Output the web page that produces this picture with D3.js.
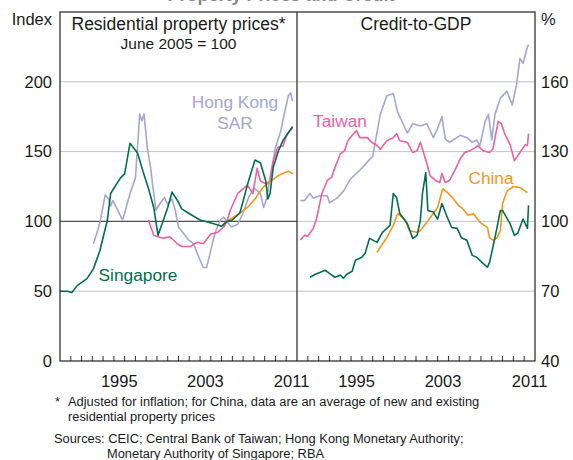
<!DOCTYPE html>
<html>
<head>
<meta charset="utf-8">
<script src="https://cdn.jsdelivr.net/npm/d3@7"></script>
<style>
  body { margin: 0; background: #fff; }
  svg { font-family: Arial, "Liberation Sans", sans-serif; }
</style>
</head>
<body>
<div id="chart"></div>
<script>
// residential property prices, index June 2005 = 100  [year, value]
var hkPrice = [[1993.1,84],[1993.4,91],[1993.7,99],[1994.2,119],[1994.5,116],[1994.7,111],[1994.9,115],
  [1995.3,109],[1995.8,101],[1996.0,106],[1996.5,120],[1997.0,131],[1997.3,165],[1997.4,177],[1997.6,172],
  [1997.8,177],[1998.1,153],[1998.4,139],[1998.7,120],[1998.9,108],[1999.3,113],[1999.7,117],[2000.0,112],
  [2000.4,116],[2000.7,108],[2001.0,96],[2001.4,92],[2001.9,87],[2002.4,84],[2002.8,76],[2003.3,67],
  [2003.6,67],[2003.9,76],[2004.2,86],[2004.5,94],[2004.9,101],[2005.2,103],[2005.5,100],[2005.9,96],
  [2006.5,98],[2007.0,106],[2007.5,117],[2008.0,124],[2008.3,122],[2008.6,120],[2008.9,110],[2009.2,117],
  [2009.6,136],[2010.0,153],[2010.5,165],[2010.9,180],[2011.2,190],[2011.4,192],[2011.6,186]];
var sgPrice = [[1990.0,50],[1990.3,50],[1990.7,50],[1991.1,49],[1991.6,54],[1992.5,59],[1993.1,66],
  [1993.7,79],[1994.4,101],[1994.7,120],[1995.6,131],[1996.0,134],[1996.5,156],[1997.2,149],[1997.7,136],
  [1998.2,124],[1998.7,110],[1999.1,90],[1999.6,101],[2000.0,110],[2000.4,121],[2000.9,115],[2001.3,109],
  [2001.9,106],[2003.0,101],[2004.2,98.5],[2005.0,96.5],[2005.5,100],[2006.0,101],[2006.7,106],[2007.5,129],
  [2008.1,144],[2008.6,142],[2009.1,129],[2009.3,116],[2009.5,120],[2009.8,139],[2010.3,151],[2010.7,158],
  [2011.6,168]];
var twPrice = [[1998.2,101],[1998.7,90],[1999.1,89],[1999.6,88],[2000.2,89],[2000.9,84],[2001.3,82],
  [2002.1,82],[2002.7,85],[2003.3,84],[2004.0,91],[2004.6,92],[2005.2,96],[2005.5,100],[2005.8,108],
  [2006.5,120],[2007.4,126],[2007.9,120],[2008.3,138],[2008.6,129],[2009.1,127],[2009.5,129],[2009.8,143],
  [2010.2,153],[2010.7,154],[2011.1,163],[2011.6,167]];
var cnPrice = [[2005.0,97],[2005.5,100],[2006.1,103],[2006.7,106],[2007.4,110],[2008.1,116],[2008.8,124],
  [2009.6,129],[2010.3,133],[2010.9,135],[2011.2,136],[2011.6,134]];

// credit-to-GDP, per cent  [year, value]
var hkCredit = [[1990.3,109],[1990.7,109],[1991.2,112],[1991.5,110],[1992.1,111],[1992.8,111],[1993.0,108],
  [1993.7,110],[1994.3,113],[1994.9,118],[1995.8,122],[1996.6,126],[1997.0,128],[1997.7,146],[1998.3,154],
  [1998.9,155],[1999.3,147],[2000.2,138],[2000.7,142],[2001.4,141],[2002.0,142],[2002.6,136],[2003.0,140],
  [2003.4,145],[2003.7,135.5],[2004.1,134],[2005.1,137],[2005.7,136],[2006.2,134],[2006.6,135],[2006.9,132.6],
  [2007.4,143],[2007.7,146],[2008.0,135],[2008.3,146],[2008.8,153],[2009.4,156],[2009.9,150],[2010.3,159],
  [2010.6,170],[2010.9,168],[2011.3,175],[2011.4,176]];
var twCredit = [[1990.3,92],[1990.7,94],[1991.0,93.6],[1991.5,97],[1991.8,101],[1992.3,112],[1992.8,117.6],
  [1993.2,119],[1993.5,123],[1994.0,129],[1994.4,130.4],[1994.7,134.7],[1995.1,137],[1995.5,139],[1995.8,136],
  [1996.5,136],[1996.9,134],[1997.4,132.6],[1997.7,131],[1998.3,134.7],[1998.9,136],[1999.2,137.7],
  [1999.5,134.7],[2000.2,134],[2000.7,129.6],[2001.1,130.4],[2001.4,134],[2001.6,131],[2002.0,125],
  [2002.3,119.7],[2002.8,117.6],[2003.2,116.7],[2003.4,120.6],[2003.7,116.7],[2004.1,117.6],[2004.6,122],
  [2005.1,127],[2005.5,129.6],[2006.0,130.4],[2006.5,131.7],[2006.7,132.6],[2007.2,130.4],[2007.8,129.6],
  [2008.1,131],[2008.6,143],[2008.9,142],[2009.2,137.7],[2009.7,133],[2010.1,126],[2010.6,129.6],
  [2011.1,133],[2011.3,132.6],[2011.4,137.7]];
var cnCredit = [[1997.4,86.7],[1997.7,88.9],[1998.3,93],[1998.9,98.3],[1999.3,103.4],[1999.7,101.7],
  [2000.0,100.4],[2000.4,96],[2001.1,95.3],[2001.4,96],[2002.0,99.6],[2002.6,103.4],[2003.0,106],[2003.4,113],
  [2003.5,114],[2004.0,112],[2004.4,110],[2004.9,107],[2005.3,105.6],[2005.8,102.6],[2006.3,103.4],
  [2006.9,99.6],[2007.6,97.4],[2007.8,93],[2008.1,91.9],[2008.5,93],[2008.8,96],[2009.0,107.7],[2009.4,113],
  [2010.0,115],[2010.6,114.6],[2011.3,112.4]];
var sgCredit = [[1991.2,76],[1991.7,77.3],[1992.1,78],[1992.6,79],[1993.0,77.7],[1993.5,76],[1994.0,76.9],
  [1994.3,75.6],[1994.6,77.3],[1995.1,78.6],[1995.4,83.3],[1996.0,84.6],[1996.3,86.3],[1996.7,92.7],
  [1997.4,91],[1997.9,95.3],[1998.6,98.3],[1998.9,112],[1999.2,110.3],[1999.5,103.4],[2000.0,100.4],
  [2000.2,99],[2000.7,92.7],[2001.1,94],[2001.4,100.4],[2001.6,112],[2001.9,121],[2002.1,104.7],[2002.6,104],
  [2003.0,101],[2003.4,107.7],[2003.9,101.7],[2004.3,97.4],[2004.8,97],[2005.2,93],[2005.7,91.9],
  [2006.2,85.4],[2006.6,84.6],[2007.1,82.4],[2007.6,80.3],[2007.8,82.4],[2008.3,93],[2008.8,104.7],
  [2009.0,104.7],[2009.7,99],[2010.1,94],[2010.4,94.9],[2010.9,101],[2011.3,97],[2011.4,106.9]];

var leftTicks = [0, 50, 100, 150, 200];
var rightTicks = [40, 70, 100, 130, 160];
var yearLabels = [1995, 2003, 2011];

var col = { hk: "#a5a5d6", sg: "#00704a", tw: "#f0609e", cn: "#f7941d" };

function init(){
	var W = 573, H = 460;
	var top = 12, bottom = 361;
	var x0 = 60, xMid = 297, x1 = 535;

	var svg = d3.select("#chart").append("svg")
				.attr("width", W)
				.attr("height", H);

	// x scales for the two panels
	var xL = d3.scaleLinear().domain([1990, 2012]).range([x0, xMid]);
	var xR = d3.scaleLinear().domain([1990, 2012]).range([xMid, x1]);
	var yL = d3.scaleLinear().domain([0, 250]).range([bottom, top]);
	var yR = d3.scaleLinear().domain([40, 190]).range([bottom, top]);

	// title cut off at the top edge, only its lowest pixels show
	svg.append("text").attr("x", 281).attr("y", 1.2).attr("text-anchor", "middle")
		.attr("font-size", 18).attr("font-weight", "bold").attr("fill", "#888")
		.text("Property Prices and Credit");

	// gridlines
	svg.selectAll(".grid").data(leftTicks.slice(1))
		.enter().append("line")
		.attr("x1", x0).attr("x2", x1)
		.attr("y1", function(d){ return yL(d); })
		.attr("y2", function(d){ return yL(d); })
		.attr("stroke", "#c4c4c4").attr("stroke-width", 1);
	// index 100 line in left panel
	svg.append("line").attr("x1", x0).attr("x2", xMid)
		.attr("y1", yL(100)).attr("y2", yL(100))
		.attr("stroke", "#555").attr("stroke-width", 1.2);

	// year ticks
	var years = d3.range(1991, 2012);
	[xL, xR].forEach(function(xs){
		svg.append("g").selectAll("line").data(years).enter().append("line")
			.attr("x1", function(d){ return xs(d); })
			.attr("x2", function(d){ return xs(d); })
			.attr("y1", bottom).attr("y2", bottom - 5)
			.attr("stroke", "#333").attr("stroke-width", 1);
		svg.append("g").selectAll("text").data(yearLabels).enter().append("text")
			.attr("x", function(d){ return xs(d + 0.5); })
			.attr("y", 387)
			.attr("text-anchor", "middle")
			.attr("font-size", 16.5).attr("fill", "#1a1a1a")
			.text(function(d){ return d; });
	});

	// series lines
	var lineL = d3.line().x(function(d){ return xL(d[0]); }).y(function(d){ return yL(d[1]); });
	var lineR = d3.line().x(function(d){ return xR(d[0]); }).y(function(d){ return yR(d[1]); });

	var leftSeries = [[hkPrice, col.hk], [twPrice, col.tw], [cnPrice, col.cn], [sgPrice, col.sg]];
	var rightSeries = [[hkCredit, col.hk], [twCredit, col.tw], [cnCredit, col.cn], [sgCredit, col.sg]];

	leftSeries.forEach(function(s){
		svg.append("path").datum(s[0]).attr("d", lineL)
			.attr("fill", "none").attr("stroke", s[1]).attr("stroke-width", 1.6)
			.attr("stroke-linejoin", "round");
	});
	rightSeries.forEach(function(s){
		svg.append("path").datum(s[0]).attr("d", lineR)
			.attr("fill", "none").attr("stroke", s[1]).attr("stroke-width", 1.6)
			.attr("stroke-linejoin", "round");
	});

	// frame
	svg.append("rect").attr("x", x0).attr("y", top)
		.attr("width", x1 - x0).attr("height", bottom - top)
		.attr("fill", "none").attr("stroke", "#222").attr("stroke-width", 1.2);
	svg.append("line").attr("x1", xMid).attr("x2", xMid).attr("y1", top).attr("y2", bottom)
		.attr("stroke", "#222").attr("stroke-width", 1.2);

	// y tick labels
	svg.append("g").selectAll("text").data(leftTicks).enter().append("text")
		.attr("x", 52).attr("y", function(d){ return yL(d); })
		.attr("dy", "0.35em").attr("text-anchor", "end")
		.attr("font-size", 16.5).attr("fill", "#1a1a1a")
		.text(function(d){ return d; });
	svg.append("g").selectAll("text").data(rightTicks).enter().append("text")
		.attr("x", 541).attr("y", function(d){ return yR(d); })
		.attr("dy", "0.35em").attr("text-anchor", "start")
		.attr("font-size", 16.5).attr("fill", "#1a1a1a")
		.text(function(d){ return d; });
	svg.append("text").attr("x", 52).attr("y", 25).attr("text-anchor", "end")
		.attr("font-size", 16.5).attr("fill", "#1a1a1a").text("Index");
	svg.append("text").attr("x", 541).attr("y", 25).attr("text-anchor", "start")
		.attr("font-size", 16.5).attr("fill", "#1a1a1a").text("%");

	// panel titles
	svg.append("text").attr("x", (x0 + xMid) / 2).attr("y", 30).attr("text-anchor", "middle")
		.attr("font-size", 17.5).attr("fill", "#1a1a1a").text("Residential property prices*");
	svg.append("text").attr("x", (x0 + xMid) / 2).attr("y", 49).attr("text-anchor", "middle")
		.attr("font-size", 15.5).attr("fill", "#1a1a1a").text("June 2005 = 100");
	svg.append("text").attr("x", (xMid + x1) / 2).attr("y", 30).attr("text-anchor", "middle")
		.attr("font-size", 17.5).attr("fill", "#1a1a1a").text("Credit-to-GDP");

	// series labels
	var labels = [
		{t: "Hong Kong", x: 235, y: 108, c: col.hk},
		{t: "SAR", x: 235, y: 129, c: col.hk},
		{t: "Singapore", x: 138, y: 281, c: col.sg},
		{t: "Taiwan", x: 340, y: 127, c: col.tw},
		{t: "China", x: 491, y: 184, c: col.cn}
	];
	svg.append("g").selectAll("text").data(labels).enter().append("text")
		.attr("x", function(d){ return d.x; })
		.attr("y", function(d){ return d.y; })
		.attr("text-anchor", "middle")
		.attr("font-size", 17.3)
		.attr("fill", function(d){ return d.c; })
		.text(function(d){ return d.t; });

	// footnotes
	var notes = [
		{t: "*", x: 55, y: 406},
		{t: "Adjusted for inflation; for China, data are an average of new and existing", x: 68, y: 406},
		{t: "residential property prices", x: 68, y: 421},
		{t: "Sources: CEIC; Central Bank of Taiwan; Hong Kong Monetary Authority;", x: 54, y: 443},
		{t: "Monetary Authority of Singapore; RBA", x: 107, y: 458}
	];
	svg.append("g").selectAll("text").data(notes).enter().append("text")
		.attr("x", function(d){ return d.x; })
		.attr("y", function(d){ return d.y; })
		.attr("font-size", 12.85).attr("fill", "#1a1a1a")
		.text(function(d){ return d.t; });
}

window.onload = init;
</script>
</body>
</html>
